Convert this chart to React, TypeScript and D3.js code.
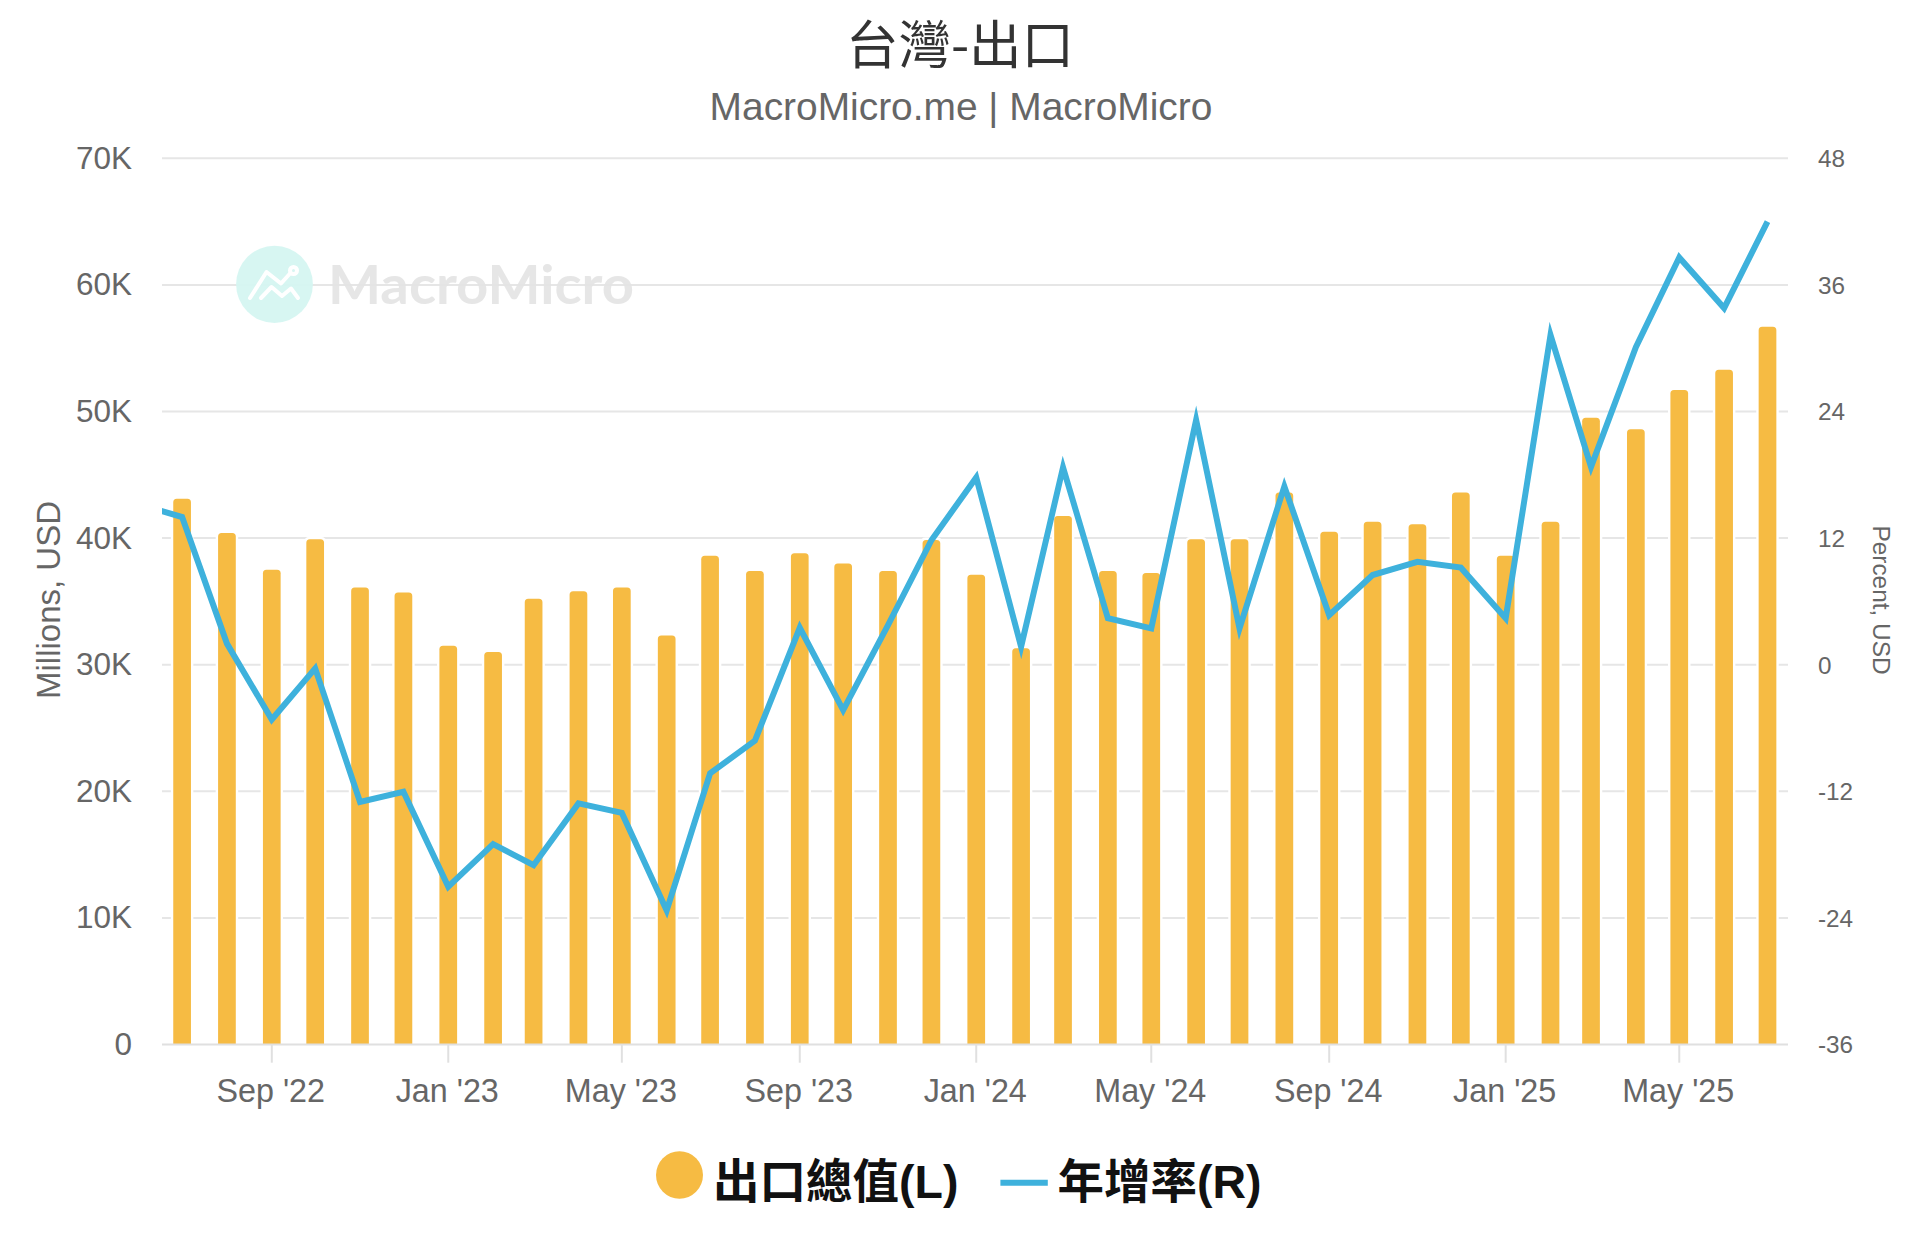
import React from "react";
import * as d3 from "d3";

const months = ["2022-07","2022-08","2022-09","2022-10","2022-11","2022-12","2023-01","2023-02","2023-03","2023-04","2023-05","2023-06","2023-07","2023-08","2023-09","2023-10","2023-11","2023-12","2024-01","2024-02","2024-03","2024-04","2024-05","2024-06","2024-07","2024-08","2024-09","2024-10","2024-11","2024-12","2025-01","2025-02","2025-03","2025-04","2025-05","2025-06","2025-07"];
const exportsTotal = [43.1,40.4,37.5,39.9,36.1,35.7,31.5,31.0,35.2,35.8,36.1,32.3,38.6,37.4,38.8,38.0,37.4,39.85,37.1,31.3,41.75,37.4,37.25,39.9,39.9,43.6,40.5,41.3,41.1,43.6,38.6,41.3,49.5,48.6,51.7,53.3,56.7];
const growthMonths = ["2022-06", ...months];
const growth = [15.2,14.0,2.0,-5.2,-0.35,-13.0,-12.05,-21.05,-17.0,-19.0,-13.15,-14.05,-23.3,-10.3,-7.2,3.5,-4.3,3.75,11.8,17.75,1.7,18.7,4.4,3.45,23.2,3.45,16.9,4.7,8.5,9.75,9.2,4.4,31.25,18.75,30.1,38.6,33.8,42.0];
const leftTicks = [0,10,20,30,40,50,60,70];
const rightTicks = [-36,-24,-12,0,12,24,36,48];
const xTickMonths = ["2022-09","2023-01","2023-05","2023-09","2024-01","2024-05","2024-09","2025-01","2025-05"];

const parse = d3.utcParse("%Y-%m");
const fmtTick = (d: Date) => d3.utcFormat("%b '%y")(d);
const latin = "'Liberation Sans', Arial, sans-serif";
const cjk = "'Liberation Sans', 'Noto Sans CJK TC', sans-serif";
const GRID = "#e6e6e6";
const BAR = "#f6bb43";
const LINE = "#3eb1dc";

const PL = 162, PR = 1788, PT = 158.3, PB = 1044.5;
const x = d3.scaleUtc().domain([parse("2022-07")!, parse("2025-07")!]).range([182.1, 1767.5]);
const yL = d3.scaleLinear().domain([0, 70]).range([PB, PT]);
const yR = d3.scaleLinear().domain([-36, 48]).range([PB, PT]);
const lineGen = d3.line<number>().x((_, i) => x(parse(growthMonths[i])!)).y((d) => yR(d));

function topRounded(cx: number, top: number, w: number, r: number) {
  const p = d3.path();
  p.moveTo(cx - w / 2, PB);
  p.lineTo(cx - w / 2, top + r);
  p.arcTo(cx - w / 2, top, cx - w / 2 + r, top, r);
  p.lineTo(cx + w / 2 - r, top);
  p.arcTo(cx + w / 2, top, cx + w / 2, top + r, r);
  p.lineTo(cx + w / 2, PB);
  p.closePath();
  return p.toString();
}

export default function App() {
  return (
    <svg width={1920} height={1250} style={{ position: "absolute", left: 0, top: 0, display: "block", background: "#fff" }}>
      <defs>
        <clipPath id="plot"><rect x={PL} y={PT - 10} width={PR - PL} height={PB - PT + 20} /></clipPath>
      </defs>
      <text x={960} y={63.5} textAnchor="middle" fontFamily="'Noto Sans CJK TC', sans-serif" fontSize={52.5} fill="#333">台灣-出口</text>
      <text x={961} y={120} textAnchor="middle" fontFamily={latin} fontSize={38.9} fill="#666">MacroMicro.me | MacroMicro</text>

      {leftTicks.filter((t) => t > 0).map((t) => (
        <line key={t} x1={PL} x2={PR} y1={yL(t)} y2={yL(t)} stroke={GRID} strokeWidth={2} />
      ))}

      <g>
        <ellipse cx={274.5} cy={284.3} rx={38.4} ry={38.6} fill="#d5f6f1" fillOpacity={0.95} />
        <g fill="none" stroke="#fff" strokeWidth={4} strokeLinecap="round" strokeLinejoin="round">
          <polyline points="250,298 266.5,272 281,283.5 290,273.5" />
          <polyline points="261,298 271.5,287 282,296 291,288.5 298,298" />
          <circle cx={293.5} cy={270.5} r={3.5} />
        </g>
        <text x={328} y={304} fontFamily="Lato, sans-serif" fontWeight={700} fontSize={54} fill="#e3e3e3" fillOpacity={0.9} textLength={306} lengthAdjust="spacingAndGlyphs">MacroMicro</text>
      </g>

      {months.map((m, i) => {
        const cx = x(parse(m)!);
        const top = yL(exportsTotal[i]);
        return (
          <g key={m}>
            <path d={topRounded(cx, top, 22.5, 5)} fill="#fff" transform="translate(0,-2.4)" />
            <path d={topRounded(cx, top, 17.7, 3.5)} fill={BAR} />
          </g>
        );
      })}

      <line x1={PL} x2={PR} y1={PB} y2={PB} stroke="#e0e0e0" strokeWidth={2} />
      {xTickMonths.map((m) => {
        const d = parse(m)!;
        return (
          <g key={m}>
            <line x1={x(d)} x2={x(d)} y1={PB} y2={1062.7} stroke="#e0e0e0" strokeWidth={2} />
            <text x={x(d) - 1} y={1101.8} textAnchor="middle" fontFamily={latin} fontSize={32.3} fill="#666">{fmtTick(d)}</text>
          </g>
        );
      })}

      <path d={lineGen(growth)!} clipPath="url(#plot)" fill="none" stroke={LINE} strokeWidth={6} strokeLinejoin="miter" strokeMiterlimit={10} />

      {leftTicks.map((t) => (
        <text key={t} x={132} y={yL(t) + 10.5} textAnchor="end" fontFamily={latin} fontSize={31.5} fill="#666">{t === 0 ? "0" : `${t}K`}</text>
      ))}
      {rightTicks.map((t) => (
        <text key={t} x={1818} y={yR(t) + 8.8} fontFamily={latin} fontSize={24.3} fill="#666">{t}</text>
      ))}
      <text transform="translate(59.5,600) rotate(-90)" textAnchor="middle" fontFamily={latin} fontSize={33} fill="#666">Millions, USD</text>
      <text transform="translate(1872.5,600) rotate(90)" textAnchor="middle" fontFamily={latin} fontSize={24.4} fill="#666">Percent, USD</text>

      <ellipse cx={679.5} cy={1175} rx={23.5} ry={23.8} fill={BAR} />
      <text x={713} y={1197.5} fontFamily={cjk} fontWeight={700} fontSize={46.5} fill="#111">出口總值(L)</text>
      <line x1={1000.4} x2={1047.8} y1={1182.7} y2={1182.7} stroke={LINE} strokeWidth={6} />
      <text x={1057.5} y={1197.5} fontFamily={cjk} fontWeight={700} fontSize={46.5} fill="#111">年增率(R)</text>
    </svg>
  );
}
